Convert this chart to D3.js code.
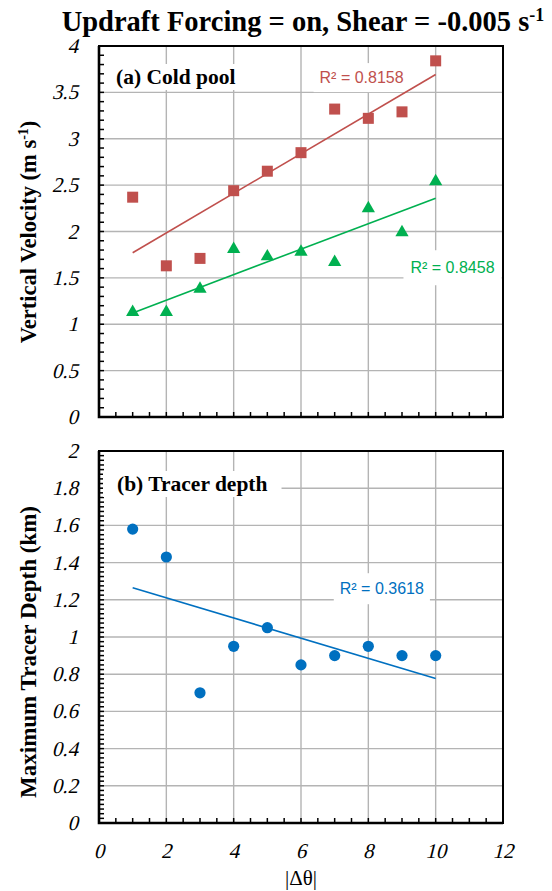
<!DOCTYPE html>
<html>
<head>
<meta charset="utf-8">
<script src="https://cdn.jsdelivr.net/npm/d3@7"></script>
<style>
  body { margin: 0; background: #fff; }
  svg { display: block; }
</style>
</head>
<body>
<div id="chart"></div>
<script>
// data
var dTheta = [1, 2, 3, 4, 5, 6, 7, 8, 9, 10];
var coldPoolRed = [2.37, 1.63, 1.71, 2.44, 2.65, 2.85, 3.32, 3.22, 3.29, 3.84];
var coldPoolGreen = [1.13, 1.13, 1.38, 1.81, 1.73, 1.78, 1.67, 2.25, 1.99, 2.54];
var tracerDepth = [1.58, 1.43, 0.70, 0.95, 1.05, 0.85, 0.90, 0.95, 0.90, 0.90];
var xTicks = [0, 2, 4, 6, 8, 10, 12];
var topTicks = [0, 0.5, 1, 1.5, 2, 2.5, 3, 3.5, 4];
var botTicks = [0, 0.2, 0.4, 0.6, 0.8, 1, 1.2, 1.4, 1.6, 1.8, 2];
var r2Text = ["R\u00B2 = 0.8158", "R\u00B2 = 0.8458", "R\u00B2 = 0.3618"];

var red = "#C0504D", green = "#00B050", blue = "#0070C0";
var serif = "'Liberation Serif', 'Times New Roman', serif";
var sans = "'Liberation Sans', Arial, sans-serif";

var width = 552, height = 891;
var svg = d3.select("#chart").append("svg")
    .attr("width", width)
    .attr("height", height);

var x = d3.scaleLinear().domain([0, 12]).range([99, 503]);
var yTop = d3.scaleLinear().domain([0, 4]).range([417, 46]);
var yBot = d3.scaleLinear().domain([0, 2]).range([823, 451]);

// least squares fit
function fit(xs, ys) {
    var mx = d3.mean(xs), my = d3.mean(ys);
    var sxy = d3.sum(xs, function(d, i) { return (d - mx) * (ys[i] - my); });
    var sxx = d3.sum(xs, function(d) { return (d - mx) * (d - mx); });
    var b = sxy / sxx;
    return function(v) { return my + b * (v - mx); };
}

// slanted serif numbers
function italicNum(sel) {
    return sel.attr("font-family", serif)
        .attr("font-size", 21);
}

function drawPanel(y, ticks, minorStep) {
    var g = svg.append("g");
    var x0 = x.range()[0], x1 = x.range()[1];
    var y0 = y.range()[0], y1 = y.range()[1];

    // gridlines
    g.selectAll(".hgrid")
        .data(ticks.slice(1, -1))
        .enter().append("line")
        .attr("x1", x0).attr("x2", x1)
        .attr("y1", function(d) { return y(d); })
        .attr("y2", function(d) { return y(d); })
        .attr("stroke", "#b4b4b4").attr("stroke-width", 1.4);
    g.selectAll(".vgrid")
        .data(xTicks.slice(1, -1))
        .enter().append("line")
        .attr("y1", y0).attr("y2", y1)
        .attr("x1", function(d) { return x(d); })
        .attr("x2", function(d) { return x(d); })
        .attr("stroke", "#b4b4b4").attr("stroke-width", 1.4);

    // inner ticks
    var xMinor = d3.range(0, 12.001, 0.5);
    g.selectAll(".xtick")
        .data(xMinor)
        .enter().append("line")
        .attr("x1", function(d) { return x(d); })
        .attr("x2", function(d) { return x(d); })
        .attr("y1", y0).attr("y2", y0 - 5)
        .attr("stroke", "#000").attr("stroke-width", 1.5);
    var top = y.domain()[1];
    var yMinor = d3.range(0, top + minorStep / 2, minorStep);
    g.selectAll(".ytick")
        .data(yMinor)
        .enter().append("line")
        .attr("y1", function(d) { return y(d); })
        .attr("y2", function(d) { return y(d); })
        .attr("x1", x0).attr("x2", x0 + 5)
        .attr("stroke", "#000").attr("stroke-width", 1.5);

    // frame
    g.append("rect")
        .attr("x", x0).attr("y", y1)
        .attr("width", x1 - x0).attr("height", y0 - y1)
        .attr("fill", "none").attr("stroke", "#000").attr("stroke-width", 2);
    g.append("path")
        .attr("d", "M" + x0 + "," + y1 + "V" + y0 + "H" + x1)
        .attr("fill", "none").attr("stroke", "#000").attr("stroke-width", 2.6);

    // y tick labels
    g.selectAll(".ylab")
        .data(ticks)
        .enter().append("text")
        .attr("transform", function(d) {
            return "translate(78," + (y(d) + 7) + ") skewX(-14)";
        })
        .attr("text-anchor", "end")
        .call(italicNum)
        .text(function(d) { return d; });
    return g;
}

function boxedLabel(g, cx, baseline, txt, color, font, size, weight, anchor, padX, padY) {
    var lg = g.append("g");
    var box = lg.append("rect").attr("fill", "#fff");
    var t = lg.append("text")
        .attr("x", cx).attr("y", baseline)
        .attr("text-anchor", anchor)
        .attr("fill", color)
        .style("font-family", font)
        .style("font-size", size)
        .style("font-weight", weight)
        .text(txt);
    var bb = t.node().getBBox();
    box.attr("x", bb.x - padX).attr("y", bb.y - padY)
        .attr("width", bb.width + 2 * padX).attr("height", bb.height + 2 * padY);
    return lg;
}

// panel (a)
var gA = drawPanel(yTop, topTicks, 0.1);
boxedLabel(gA, 116, 84, "(a) Cold pool", "#000", serif, "21.5px", "bold", "start", 0, 1);
boxedLabel(gA, x(7.8), yTop(3.6), r2Text[0], red, sans, "16px", "normal", "middle", 6, 6);
boxedLabel(gA, x(10.5), yTop(1.55), r2Text[1], green, sans, "16px", "normal", "middle", 7, 9);

var fitRed = fit(dTheta, coldPoolRed);
var fitGreen = fit(dTheta, coldPoolGreen);
var xEnds = d3.extent(dTheta);
var line = d3.line();
gA.append("path")
    .attr("d", line(xEnds.map(function(v) { return [x(v), yTop(fitRed(v))]; })))
    .attr("stroke", red).attr("stroke-width", 1.6).attr("fill", "none");
gA.append("path")
    .attr("d", line(xEnds.map(function(v) { return [x(v), yTop(fitGreen(v))]; })))
    .attr("stroke", green).attr("stroke-width", 1.6).attr("fill", "none");

gA.selectAll(".sq")
    .data(dTheta)
    .enter().append("rect")
    .attr("x", function(d) { return x(d) - 5.5; })
    .attr("y", function(d, i) { return yTop(coldPoolRed[i]) - 5.5; })
    .attr("width", 11).attr("height", 11)
    .attr("fill", red);
gA.selectAll(".tri")
    .data(dTheta)
    .enter().append("path")
    .attr("d", d3.symbol().type(d3.symbolTriangle).size(76))
    .attr("transform", function(d, i) {
        return "translate(" + x(d) + "," + yTop(coldPoolGreen[i]) + ")";
    })
    .attr("fill", green);

// panel (b)
var gB = drawPanel(yBot, botTicks, 0.025);
boxedLabel(gB, 117, 491, "(b) Tracer depth", "#000", serif, "21.5px", "bold", "start", 14, 1);
boxedLabel(gB, x(8.4), yBot(1.23), r2Text[2], blue, sans, "16px", "normal", "middle", 6, 7);

var fitBlue = fit(dTheta, tracerDepth);
gB.append("path")
    .attr("d", line(xEnds.map(function(v) { return [x(v), yBot(fitBlue(v))]; })))
    .attr("stroke", blue).attr("stroke-width", 1.6).attr("fill", "none");
gB.selectAll(".dot")
    .data(dTheta)
    .enter().append("circle")
    .attr("cx", function(d) { return x(d); })
    .attr("cy", function(d, i) { return yBot(tracerDepth[i]); })
    .attr("r", 5.6)
    .attr("fill", blue);

// x tick labels
svg.selectAll(".xlab")
    .data(xTicks)
    .enter().append("text")
    .attr("transform", function(d) {
        return "translate(" + x(d) + ",858) skewX(-14)";
    })
    .attr("text-anchor", "middle")
    .call(italicNum)
    .text(function(d) { return d; });

svg.append("text")
    .attr("x", 301).attr("y", 885)
    .attr("text-anchor", "middle")
    .style("font-family", serif)
    .style("font-size", "21px")
    .text("|\u0394\u03B8|");

// title
var title = svg.append("text")
    .attr("x", 303).attr("y", 31)
    .attr("text-anchor", "middle")
    .style("font-family", serif)
    .style("font-weight", "bold")
    .style("font-size", "28.5px");
title.append("tspan").text("Updraft Forcing = on, Shear = -0.005 s");
title.append("tspan").attr("dy", -10).style("font-size", "18px").text("-1");

// y axis titles
var yt1 = svg.append("text")
    .attr("transform", "translate(36," + 232 + ") rotate(-90)")
    .attr("text-anchor", "middle")
    .style("font-family", serif)
    .style("font-weight", "bold")
    .style("font-size", "22.5px");
yt1.append("tspan").text("Vertical Velocity (m s");
yt1.append("tspan").attr("dy", -8).style("font-size", "14px").text("-1");
yt1.append("tspan").attr("dy", 8).text(")");

svg.append("text")
    .attr("transform", "translate(36," + 652 + ") rotate(-90)")
    .attr("text-anchor", "middle")
    .style("font-family", serif)
    .style("font-weight", "bold")
    .style("font-size", "23px")
    .text("Maximum Tracer Depth (km)");
</script>
</body>
</html>
